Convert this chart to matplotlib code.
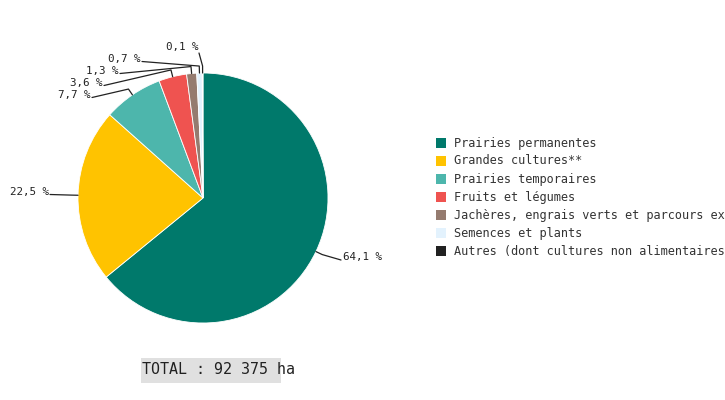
import numpy as np
import matplotlib
matplotlib.use("Agg")
import matplotlib.pyplot as plt
from matplotlib.patches import Rectangle

# données : surfaces (% du total)
categories = ["Prairies permanentes", "Grandes cultures**", "Prairies temporaires",
              "Fruits et légumes", "Jachères, engrais verts et parcours extensifs",
              "Semences et plants", "Autres (dont cultures non alimentaires)"]
values = [64.1, 22.5, 7.7, 3.6, 1.3, 0.7, 0.1]
value_labels = ["64,1 %", "22,5 %", "7,7 %", "3,6 %", "1,3 %", "0,7 %", "0,1 %"]
colors = ["#00796b", "#ffc300", "#4db6ac", "#ef5350", "#957b6f", "#e3f2fd", "#212121"]
total_text = "TOTAL : 92 375 ha"

W, H = 725, 400
fig = plt.figure(figsize=(W / 100, H / 100), dpi=100)
ax = fig.add_axes([0, 0, 1, 1])

def Y(y):
    # coordonnées écran -> coordonnées de l'axe
    return H - y

cx, cy, r = 203, Y(198), 125
mono = "DejaVu Sans Mono"

ax.pie(values, colors=colors, startangle=90, counterclock=False,
       center=(cx, cy), radius=r,
       wedgeprops=dict(linewidth=0.6, edgecolor="white"))

# positions des étiquettes (écran) et alignement
label_pos = [(343, 257, "left"), (49, 192, "right"), (91, 95, "right"),
             (103, 83, "right"), (119, 71, "right"), (141, 59, "right"),
             (199, 47, "right")]

frac = np.array(values) / sum(values)
mids = np.cumsum(frac) - frac / 2
for m, txt, (lx, ly, ha) in zip(mids, value_labels, label_pos):
    th = np.deg2rad(90 - 360 * m)
    ux, uy = np.cos(th), np.sin(th)
    p0 = (cx + r * ux, cy + r * uy)
    p1 = (cx + (r + 7) * ux, cy + (r + 7) * uy)
    if ha == "left":
        end = (lx - 2, Y(ly + 3))
    elif txt == "0,1 %":
        end = (lx, Y(ly + 6))
    else:
        end = (lx + 1, Y(ly + 2.5))
    ax.plot([p0[0], p1[0], end[0]], [p0[1], p1[1], end[1]],
            color="#222222", lw=0.9, solid_capstyle="round")
    ax.text(lx, Y(ly), txt, ha=ha, va="center", fontsize=7.8,
            family=mono, color="#222222")

# légende
for i, (cat, col) in enumerate(zip(categories, colors)):
    yc = 143 + 18 * i
    ax.add_patch(Rectangle((436, Y(yc + 5)), 10, 10, facecolor=col, edgecolor="none"))
    ax.text(454, Y(yc), cat, ha="left", va="center", fontsize=8.6,
            family=mono, color="#333333")

# total
ax.add_patch(Rectangle((141, Y(383)), 140, 25, facecolor="#e0e0e0", edgecolor="none"))
ax.text(142, Y(370), total_text, ha="left", va="center", fontsize=10.8,
        family=mono, color="#212121")

ax.set_xlim(0, W)
ax.set_ylim(0, H)
ax.set_aspect("equal", adjustable="box")
ax.axis("off")

fig.savefig("out.png", dpi=100)
